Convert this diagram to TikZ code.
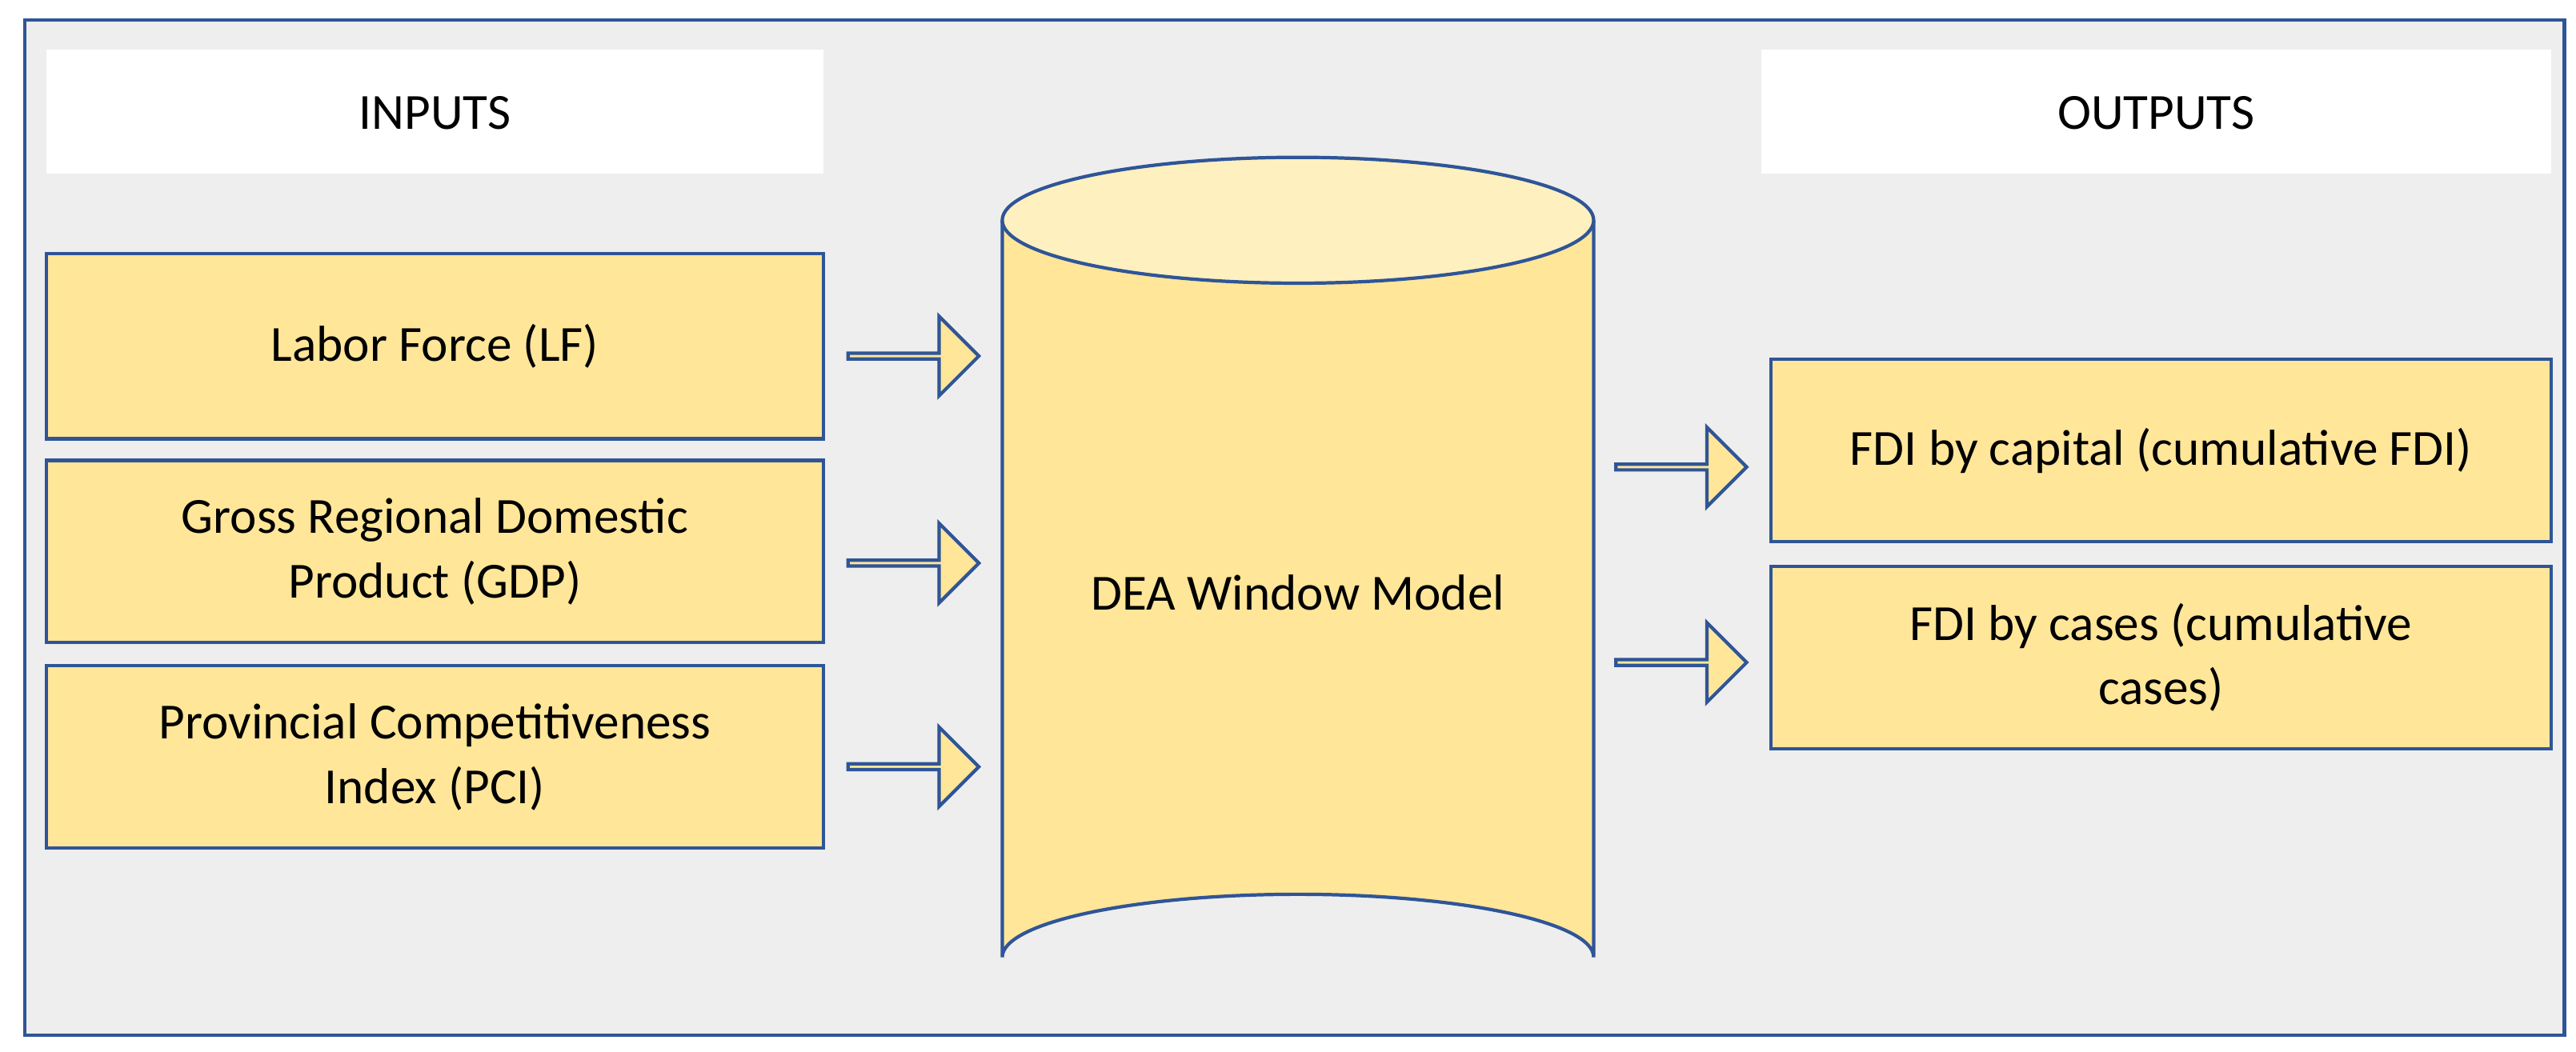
\documentclass[tikz,border=0pt]{standalone}
\usepackage{fontspec}
\setmainfont{Carlito}
\usetikzlibrary{shapes.arrows}
\definecolor{bord}{HTML}{2F5597}
\definecolor{yel}{HTML}{FFE699}
\definecolor{yeltop}{HTML}{FFF0BF}
\definecolor{bg}{HTML}{EEEEEE}
\begin{document}
\begin{tikzpicture}[x=0.207mm,y=-0.207mm,
  box/.style={draw=bord,fill=yel,line width=1.2pt,font=\fontsize{18}{23}\selectfont,align=center,inner sep=0pt},
  hdr/.style={fill=white,font=\fontsize{18}{23}\selectfont},
  arr/.style={single arrow,draw=bord,fill=yel,line width=1.2pt,minimum width=48*0.207mm,single arrow head extend=13*0.207mm,minimum height=79*0.207mm,inner sep=0pt}]
\useasboundingbox (0,0) rectangle (1555,635);
\draw[bord,fill=bg,line width=1.2pt] (15,12) rectangle (1548,625);
\path[hdr] (28,30) rectangle (497,105);
\node[font=\fontsize{18}{23}\selectfont] (in) at (262.5,68) {INPUTS};
\path[hdr] (1063,30) rectangle (1540,105);
\node[font=\fontsize{18}{23}\selectfont] (out) at (1301.5,68) {OUTPUTS};
\node[box,minimum width=469*0.207mm,minimum height=112*0.207mm] (lf) at (262.5,209) {Labor Force (LF)};
\node[box,minimum width=469*0.207mm,minimum height=110*0.207mm] (gdp) at (262.5,333) {Gross Regional Domestic\\Product (GDP)};
\node[box,minimum width=469*0.207mm,minimum height=110*0.207mm] (pci) at (262.5,457) {Provincial Competitiveness\\Index (PCI)};
\node[box,minimum width=471*0.207mm,minimum height=110*0.207mm] (cap) at (1304.5,272) {FDI by capital (cumulative FDI)};
\node[box,minimum width=471*0.207mm,minimum height=110*0.207mm] (cas) at (1304.5,397) {FDI by cases (cumulative\\cases)};
% cylinder
\draw[bord,fill=yel,line width=1.2pt] (605,133) -- (605,578) arc[start angle=180,end angle=360,x radius=178.5,y radius=38] -- (962,133);
\draw[bord,fill=yeltop,line width=1.2pt] (783.5,133) ellipse [x radius=178.5,y radius=38];
\node[font=\fontsize{18}{23}\selectfont] (dea) at (783.5,358) {DEA Window Model};
\node[arr] (a1) at (550.5,215) {};
\node[arr] (a2) at (550.5,340) {};
\node[arr] (a3) at (550.5,463) {};
\node[arr] (a4) at (1014,282) {};
\node[arr] (a5) at (1014,400) {};
\end{tikzpicture}
\end{document}
